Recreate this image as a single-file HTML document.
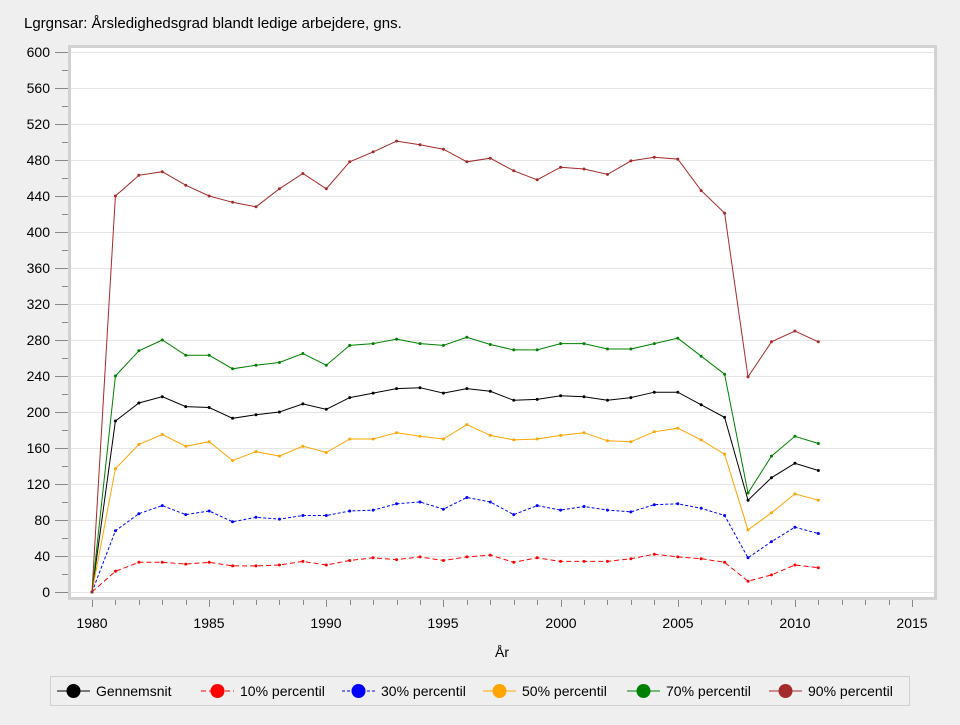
<!DOCTYPE html>
<html><head><meta charset="utf-8"><style>
html,body{margin:0;padding:0;background:#efefef;}
svg text{font-family:"Liberation Sans",Arial,sans-serif;fill:#000;}
</style></head><body>
<svg id="s" width="960" height="720" xmlns="http://www.w3.org/2000/svg">
<rect width="960" height="720" fill="#efefef"/>
<text x="24" y="28" font-size="15">Lgrgnsar: Årsledighedsgrad blandt ledige arbejdere, gns.</text>
<rect x="69.5" y="46.5" width="866" height="552" fill="#fff" stroke="#d2d2d2" stroke-width="3"/>
<g id="grid" stroke="#e6e6e6" stroke-width="1"></g>
<g id="ticks" stroke="#888" stroke-width="1"></g>
<g font-size="14" text-anchor="end">
<text x="50" y="597">0</text><text x="50" y="561">40</text><text x="50" y="525">80</text><text x="50" y="489">120</text>
<text x="50" y="453">160</text><text x="50" y="417">200</text><text x="50" y="381">240</text><text x="50" y="345">280</text>
<text x="50" y="309">320</text><text x="50" y="273">360</text><text x="50" y="237">400</text><text x="50" y="201">440</text>
<text x="50" y="165">480</text><text x="50" y="129">520</text><text x="50" y="93">560</text><text x="50" y="57">600</text>
</g>
<g font-size="14" text-anchor="middle">
<text x="92" y="628">1980</text><text x="209" y="628">1985</text><text x="326" y="628">1990</text><text x="443" y="628">1995</text>
<text x="561" y="628">2000</text><text x="678" y="628">2005</text><text x="795" y="628">2010</text><text x="912" y="628">2015</text>
<text x="502" y="657">År</text>
</g>
<g id="series"></g>
<rect x="50.5" y="676.5" width="859" height="29" fill="none" stroke="#d0d0d0"/>
<g id="leg"></g>
<g font-size="14">
<text x="96" y="696">Gennemsnit</text>
<text x="240" y="696">10% percentil</text>
<text x="381" y="696">30% percentil</text>
<text x="522" y="696">50% percentil</text>
<text x="666" y="696">70% percentil</text>
<text x="808" y="696">90% percentil</text>
</g>
</svg>
<script>
var NS="http://www.w3.org/2000/svg";
function el(p,t,a){var e=document.createElementNS(NS,t);for(var k in a)e.setAttribute(k,a[k]);document.getElementById(p).appendChild(e);return e;}
function X(y){return 92+(y-1980)*23.43;}
function Y(v){return 592-v*0.9;}
for(var v=0;v<=600;v+=40){el("grid","line",{x1:71,x2:934,y1:Y(v)+.5,y2:Y(v)+.5});}
for(var v=0;v<=600;v+=20){var m=v%40==0;el("ticks","line",{x1:m?55:62,x2:68,y1:Y(v)+.5,y2:Y(v)+.5});}
for(var y=1980;y<=2015;y++){var m=y%5==0;el("ticks","line",{x1:Math.round(X(y))+.5,x2:Math.round(X(y))+.5,y1:600,y2:m?607:605});}
var S=[
["#000","",[0,190,210,217,206,205,193,197,200,209,203,216,221,226,227,221,226,223,213,214,218,217,213,216,222,222,208,194,102,127,143,135]],
["#ff0000","5,3",[0,23,33,33,31,33,29,29,30,34,30,35,38,36,39,35,39,41,33,38,34,34,34,37,42,39,37,33,12,19,30,27]],
["#0000ff","3,2",[0,68,87,96,86,90,78,83,81,85,85,90,91,98,100,92,105,100,86,96,91,95,91,89,97,98,93,85,38,56,72,65]],
["#ffa500","",[0,137,164,175,162,167,146,156,151,162,155,170,170,177,173,170,186,174,169,170,174,177,168,167,178,182,169,153,69,88,109,102]],
["#008000","",[0,240,268,280,263,263,248,252,255,265,252,274,276,281,276,274,283,275,269,269,276,276,270,270,276,282,262,242,110,151,173,165]],
["#a52a2a","",[0,440,463,467,452,440,433,428,448,465,448,478,489,501,497,492,478,482,468,458,472,470,464,479,483,481,446,421,239,278,290,278]]];
var lx=[57,201,342,483,627,769];
S.forEach(function(s,i){
 var pts=s[2].map(function(v,j){return X(1980+j).toFixed(1)+","+Y(v).toFixed(1);}).join(" ");
 var a={points:pts,fill:"none",stroke:s[0],"stroke-width":1};if(s[1])a["stroke-dasharray"]=s[1];
 el("series","polyline",a);
 s[2].forEach(function(v,j){el("series","circle",{cx:X(1980+j),cy:Y(v),r:1.5,fill:s[0]});});
 var la={x1:lx[i],x2:lx[i]+33,y1:691,y2:691,stroke:s[0],"stroke-width":1};if(s[1])la["stroke-dasharray"]=s[1];
 el("leg","line",la);el("leg","circle",{cx:lx[i]+16.5,cy:691,r:7,fill:s[0]});
});
</script>
</body></html>
